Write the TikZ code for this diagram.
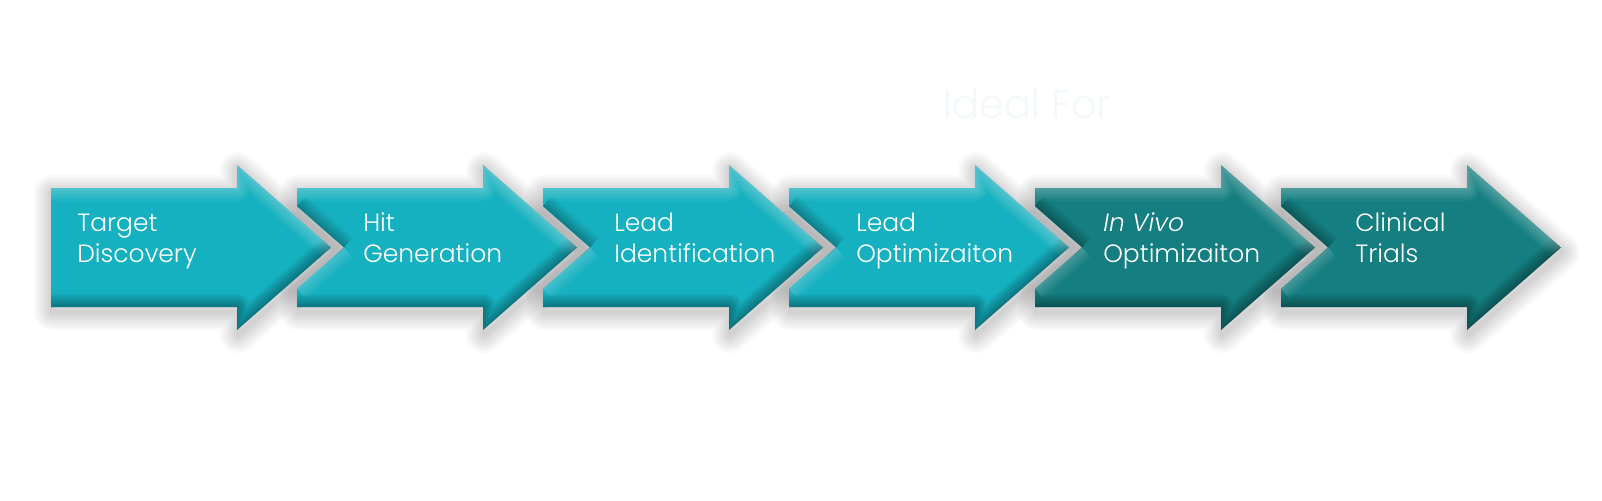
\documentclass[tikz,border=0pt]{standalone}
\usepackage{fontspec}
\setmainfont{Poppins Light}[ItalicFont={Poppins Light Italic}]
\newdimen\pxu \pxu=0.75pt
\definecolor{tealA}{HTML}{16B1C0}
\definecolor{tealB}{HTML}{147E80}
\definecolor{idealc}{HTML}{F3F8FB}
\newcommand\plainshape[1]{(#1,188) -- ({#1+186},188) -- ({#1+186},165) -- ({#1+280},247.5) -- ({#1+186},330) -- ({#1+186},307) -- (#1,307) -- cycle}
\newcommand\notchshape[1]{(#1,188) -- ({#1+186},188) -- ({#1+186},165) -- ({#1+280},247.5) -- ({#1+186},330) -- ({#1+186},307) -- (#1,307) -- (#1,288.75) -- ({#1+47},247.5) -- (#1,206.25) -- cycle}
\newcommand\shadowof[1]{%
  \foreach \w in {36,32,28,24,20,16,12,8,4} {
    \draw[black, opacity=0.02, line width=\w\pxu, line join=round, shift={(1,5)}] #1;
  }}
\newcommand\bevelof[2]{%
  \foreach \w in {26,22,18,14,10,6,3} {
    \draw[white, opacity=0.045, line width=\w\pxu, line join=round] (#1,188) -- ({#1+186},188) -- ({#1+186},165) -- ({#1+280},247.5);
    \draw[black, opacity=0.05, line width=\w\pxu, line join=round] ({#1+280},247.5) -- ({#1+186},330) -- ({#1+186},307) -- (#1,307);
    \ifnum#2=1
    \draw[black, opacity=0.045, line width=\w\pxu] (#1,206.25) -- ({#1+47},247.5);
    \draw[white, opacity=0.035, line width=\w\pxu] ({#1+47},247.5) -- (#1,288.75);
    \fi
  }}
\tikzset{lbl/.style={text=white, font=\fontsize{18.75}{23.25}\selectfont, align=left, anchor=base west, inner sep=0pt}}
\begin{document}
\begin{tikzpicture}[x=0.75pt,y=-0.75pt]
\useasboundingbox (0,0) rectangle (1602,500);
\fill[white] (0,0) rectangle (1602,500);
% shadows
\shadowof{\plainshape{51}}
\shadowof{\notchshape{297}}
\shadowof{\notchshape{543}}
\shadowof{\notchshape{789}}
\shadowof{\notchshape{1035}}
\shadowof{\notchshape{1281}}
% arrows
\fill[tealA] \plainshape{51};
\begin{scope} \clip \plainshape{51}; \bevelof{51}{0} \end{scope}
\fill[tealA] \notchshape{297};
\begin{scope} \clip \notchshape{297}; \bevelof{297}{1} \end{scope}
\fill[tealA] \notchshape{543};
\begin{scope} \clip \notchshape{543}; \bevelof{543}{1} \end{scope}
\fill[tealA] \notchshape{789};
\begin{scope} \clip \notchshape{789}; \bevelof{789}{1} \end{scope}
\fill[tealB] \notchshape{1035};
\begin{scope} \clip \notchshape{1035}; \bevelof{1035}{1} \end{scope}
\fill[tealB] \notchshape{1281};
\begin{scope} \clip \notchshape{1281}; \bevelof{1281}{1} \end{scope}
% labels
\node[lbl] (t1) at (77,262.5) {Target\\Discovery};
\node[lbl] (t2) at (363,262.5) {Hit\\Generation};
\node[lbl] (t3) at (614,262.5) {Lead\\Identification};
\node[lbl] (t4) at (856,262.5) {Lead\\Optimizaiton};
\node[lbl] (t5) at (1103,262.5) {\itshape In Vivo\\Optimizaiton};
\node[lbl] (t6) at (1355,262.5) {Clinical\\Trials};
\node[font=\fontsize{30}{36}\selectfont, text=idealc, anchor=base west, inner sep=0pt] (ideal) at (943,118) {Ideal For};
\end{tikzpicture}
\end{document}
